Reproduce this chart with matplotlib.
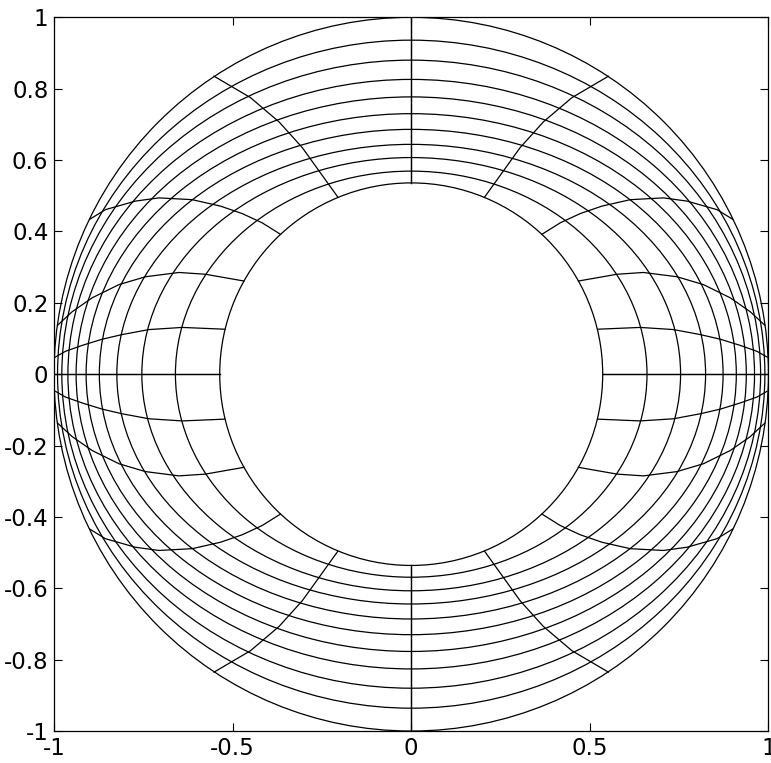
import matplotlib
matplotlib.use("Agg")
import matplotlib.pyplot as plt
from matplotlib.patches import Ellipse

plt.rcParams['font.family'] = ['DejaVu Sans']

# ring semi-axes (inner circle -> outer circle), read at y=0 and x=0
ring_a = [0.536, 0.660, 0.754, 0.824, 0.873, 0.910, 0.938, 0.961, 0.978, 0.990, 1.0]
ring_b = [0.536, 0.569, 0.607, 0.644, 0.686, 0.730, 0.777, 0.826, 0.880, 0.936, 1.0]

# radial mesh lines in the first quadrant (mirrored to the others)
vert_x = [0.0, 0.0]
vert_y = [0.536, 1.0]
diag_x = [0.206, 0.305, 0.370, 0.450, 0.552]
diag_y = [0.497, 0.635, 0.707, 0.775, 0.835]
curve3_x = [0.366, 0.417, 0.473, 0.534, 0.613, 0.706, 0.772, 0.856, 0.900]
curve3_y = [0.392, 0.424, 0.450, 0.471, 0.489, 0.494, 0.485, 0.461, 0.434]
curve4_x = [0.468, 0.576, 0.650, 0.744, 0.818, 0.893, 0.949, 0.990]
curve4_y = [0.261, 0.280, 0.285, 0.273, 0.251, 0.214, 0.175, 0.137]
curve5_x = [0.522, 0.641, 0.734, 0.809, 0.865, 0.920, 0.968, 0.996]
curve5_y = [0.126, 0.131, 0.125, 0.111, 0.098, 0.081, 0.064, 0.048]
horiz_x = [0.536, 1.0]
horiz_y = [0.0, 0.0]

x_ticks = [-1, -0.5, 0, 0.5, 1]
x_labels = ["-1", "-0.5", "0", "0.5", "1"]
y_ticks = [-1, -0.8, -0.6, -0.4, -0.2, 0, 0.2, 0.4, 0.6, 0.8, 1]
y_labels = ["-1", "-0.8", "-0.6", "-0.4", "-0.2", "0", "0.2", "0.4", "0.6", "0.8", "1"]

fig = plt.figure(figsize=(7.71, 7.63), dpi=100)
ax = fig.add_axes([0.070, 0.0419, 0.9267, 0.9354])

lw = 0.9
for a, b in zip(ring_a, ring_b):
    ax.add_patch(Ellipse((0, 0), 2 * a, 2 * b, fill=False, edgecolor="black", linewidth=lw))

radials = [(vert_x, vert_y), (diag_x, diag_y), (curve3_x, curve3_y),
           (curve4_x, curve4_y), (curve5_x, curve5_y), (horiz_x, horiz_y)]
for xs, ys in radials:
    for sx in (1, -1):
        for sy in (1, -1):
            ax.plot([sx * v for v in xs], [sy * v for v in ys], color="black", linewidth=lw)

ax.set_xlim(-1, 1)
ax.set_ylim(-1, 1)
ax.set_xticks(x_ticks)
ax.set_xticklabels(x_labels)
ax.set_yticks(y_ticks)
ax.set_yticklabels(y_labels)
ax.tick_params(direction="in", length=6, width=0.8, top=True, right=True,
               labelsize=16.5, pad=4)
for s in ax.spines.values():
    s.set_linewidth(0.9)

plt.savefig("out.png", dpi=100)
